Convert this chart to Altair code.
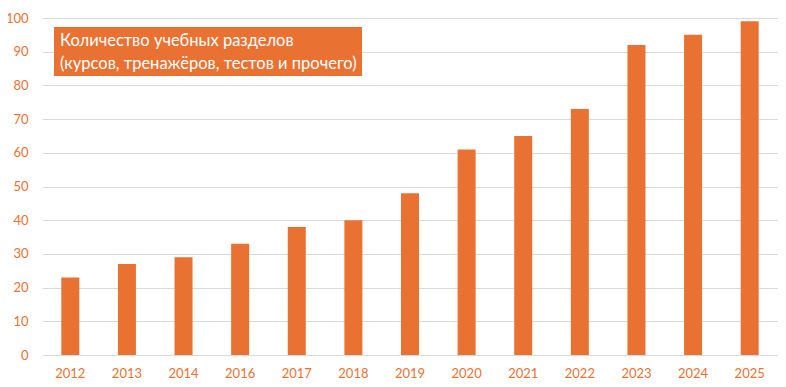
import altair as alt
import pandas as pd

years = ["2012", "2013", "2014", "2016", "2017", "2018", "2019", "2020", "2021", "2022", "2023", "2024", "2025"]
values = [23, 27, 29, 33, 38, 40, 48, 61, 65, 73, 92, 95, 99]
title_lines = ["Количество учебных разделов", "(курсов, тренажёров, тестов и прочего)"]

ORANGE = "#E97132"
FONT = "Lato"

df = pd.DataFrame({"year": years, "value": values})

base = alt.Chart(df)

bars = base.mark_bar(size=18, color=ORANGE).encode(
    x=alt.X("year:N", sort=years, title=None,
            scale=alt.Scale(paddingInner=0, paddingOuter=0),
            axis=alt.Axis(labelAngle=0, labelColor=ORANGE, labelFont=FONT, labelFontSize=13,
                          ticks=False, domain=False, labelPadding=12, grid=False)),
    y=alt.Y("value:Q", title=None,
            scale=alt.Scale(domain=[0, 100], nice=False),
            axis=alt.Axis(values=list(range(0, 101, 10)), labelColor=ORANGE, labelFont=FONT,
                          labelFontSize=13, ticks=False, domain=False, labelPadding=14,
                          gridColor="#d9d9d9", gridWidth=1)),
)

box = alt.Chart(pd.DataFrame({"t": [0]})).mark_rect(color=ORANGE).encode(
    x=alt.value(12), x2=alt.value(320), y=alt.value(9), y2=alt.value(58)
)

text = alt.Chart(pd.DataFrame({"t": ["\n".join(title_lines)]})).mark_text(
    color="white", font=FONT, fontSize=16.5, align="left", baseline="middle",
    lineBreak="\n", lineHeight=23
).encode(x=alt.value(18), y=alt.value(23), text="t:N")

chart = (bars + box + text).properties(
    width=736, height=337,
    autosize=alt.AutoSizeParams(type="none"),
    padding={"left": 34, "top": 10, "right": 0, "bottom": 24},
).configure_view(stroke=None)

chart.save("out.html", embed_options={"renderer": "svg", "actions": False})
